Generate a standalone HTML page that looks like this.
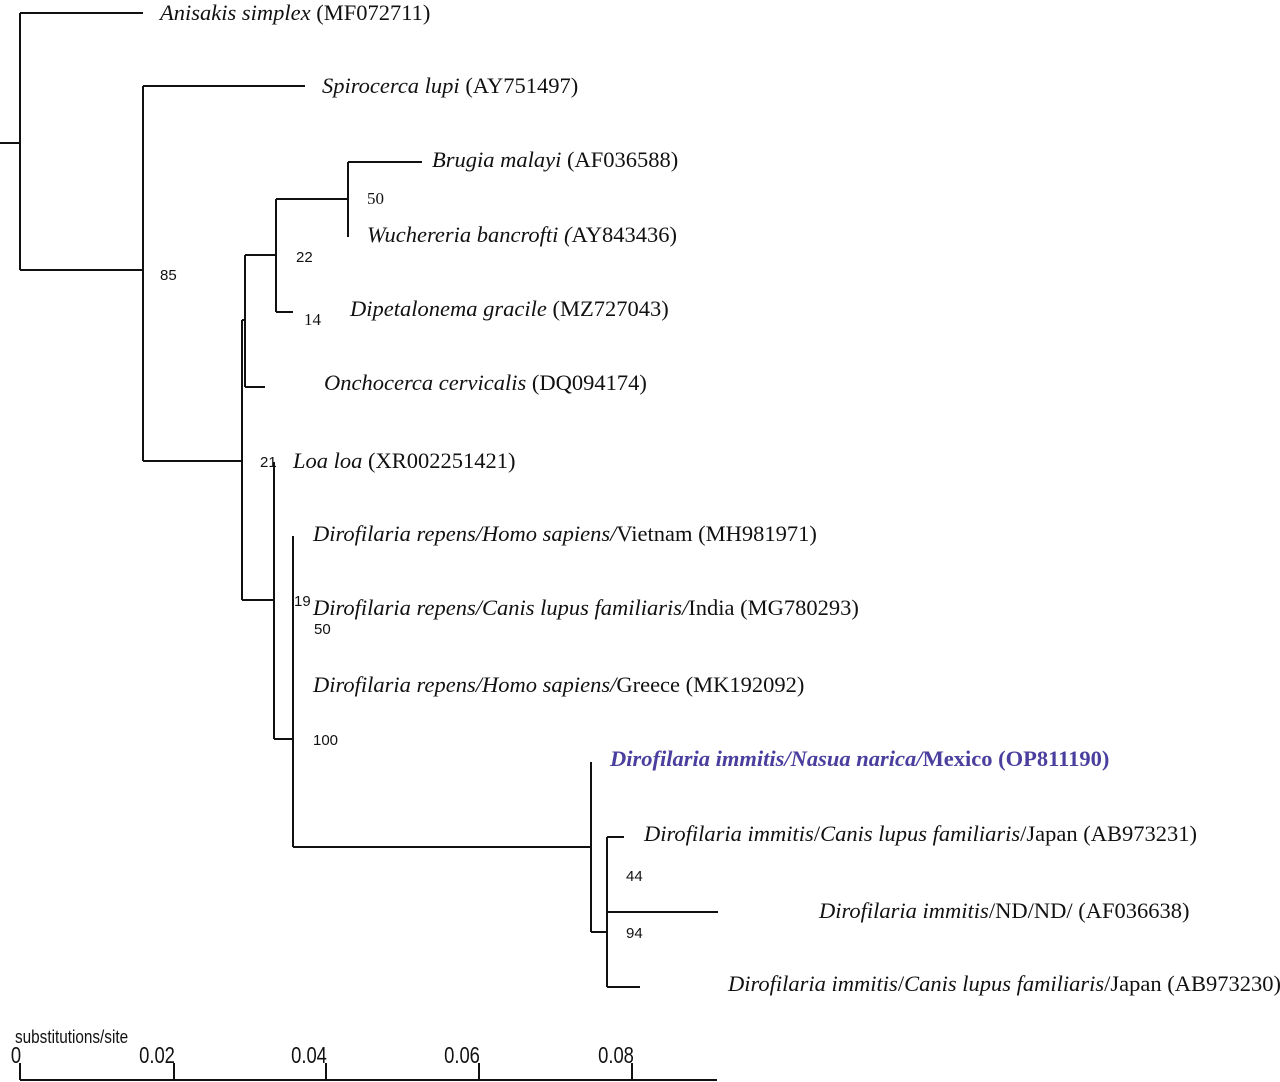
<!DOCTYPE html>
<html><head><meta charset="utf-8"><style>
html,body{margin:0;padding:0;background:#fff;}
#c{position:relative;width:1280px;height:1082px;overflow:hidden;background:#fff;}
.t{position:absolute;font-family:"Liberation Serif",serif;font-size:22.5px;color:#111;white-space:nowrap;line-height:26px;transform:translateY(-50%);}
.n{position:absolute;font-family:"Liberation Sans",sans-serif;font-size:15px;color:#111;white-space:nowrap;line-height:18px;transform:translateY(-50%);}
.ns{position:absolute;font-family:"Liberation Serif",serif;font-size:17px;color:#111;white-space:nowrap;line-height:18px;transform:translateY(-50%);}
.s{position:absolute;font-family:"Liberation Sans",sans-serif;font-size:23px;color:#111;white-space:nowrap;line-height:24px;transform:translate(-50%,-50%) scaleX(0.8);}
i{font-style:italic;}
.b{color:#4a3f9e;font-weight:bold;}
</style></head><body><div id="c">
<svg width="1280" height="1082" style="position:absolute;left:0;top:0" fill="none" stroke="#111" stroke-width="2">
<path d="M0 143H20M20 13V270M20 13H143M20 270H143M143 86V461M143 86H305M143 461H242"/>
<path d="M242 320V600M242 320H245M245 255V387M245 255H276M245 387H265M276 199V312M276 199H348M276 312H293M348 162V237M348 162H422"/>
<path d="M242 600H274M274 462V739M274 739H293M293 536V847M293 847H591"/>
<path d="M591 762V932M591 932H607M607 837V987M607 837H624M607 912H718M607 987H640"/>
<path d="M20 1080H717M20 1063V1080M174 1063V1080M326 1063V1080M479 1063V1080M632 1063V1080"/>
</svg>
<div class="t" style="left:160px;top:13px"><i>Anisakis simplex</i> (MF072711)</div>
<div class="t" style="left:322px;top:86px"><i>Spirocerca lupi</i> (AY751497)</div>
<div class="t" style="left:432px;top:160px"><i>Brugia malayi</i> (AF036588)</div>
<div class="ns" style="left:367px;top:199px">50</div>
<div class="t" style="left:367px;top:235px"><i>Wuchereria bancrofti (</i>AY843436)</div>
<div class="n" style="left:296px;top:258px">22</div>
<div class="t" style="left:350px;top:309px"><i>Dipetalonema gracile</i> (MZ727043)</div>
<div class="ns" style="left:304px;top:320px">14</div>
<div class="t" style="left:324px;top:383px"><i>Onchocerca cervicalis</i> (DQ094174)</div>
<div class="n" style="left:160px;top:276px">85</div>
<div class="n" style="left:260px;top:463px">21</div>
<div class="t" style="left:293px;top:461px"><i>Loa loa</i> (XR002251421)</div>
<div class="t" style="left:313px;top:534px"><i>Dirofilaria repens/Homo sapiens/</i>Vietnam (MH981971)</div>
<div class="n" style="left:294px;top:602px">19</div>
<div class="t" style="left:313px;top:608px"><i>Dirofilaria repens/Canis lupus familiaris/</i>India (MG780293)</div>
<div class="n" style="left:314px;top:630px">50</div>
<div class="t" style="left:313px;top:685px"><i>Dirofilaria repens/Homo sapiens/</i>Greece (MK192092)</div>
<div class="n" style="left:313px;top:741px">100</div>
<div class="t b" style="left:610px;top:759px"><i>Dirofilaria immitis/Nasua narica/</i>Mexico (OP811190)</div>
<div class="t" style="left:644px;top:834px"><i>Dirofilaria immitis</i>/<i>Canis lupus familiaris</i>/Japan (AB973231)</div>
<div class="n" style="left:626px;top:877px">44</div>
<div class="t" style="left:819px;top:911px"><i>Dirofilaria immitis</i>/ND/ND/ (AF036638)</div>
<div class="n" style="left:626px;top:934px">94</div>
<div class="t" style="left:728px;top:984px"><i>Dirofilaria immitis</i>/<i>Canis lupus familiaris</i>/Japan (AB973230)</div>
<div class="n" style="left:15px;top:1037px;font-size:18px;transform:translateY(-50%) scaleX(0.85);transform-origin:left center">substitutions/site</div>
<div class="s" style="left:16px;top:1055px">0</div>
<div class="s" style="left:157px;top:1055px">0.02</div>
<div class="s" style="left:309px;top:1055px">0.04</div>
<div class="s" style="left:462px;top:1055px">0.06</div>
<div class="s" style="left:616px;top:1055px">0.08</div>
</div></body></html>
